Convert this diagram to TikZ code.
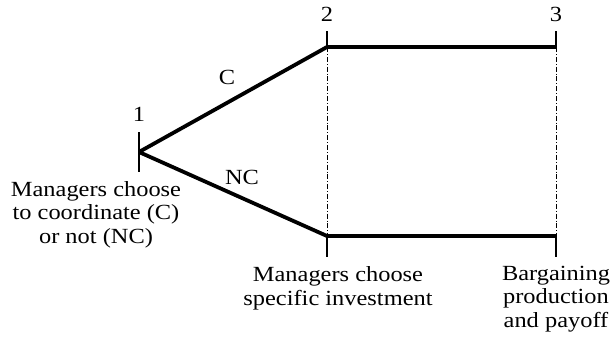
\documentclass[tikz,border=0pt]{standalone}
\usepackage{fontspec}
\setmainfont{Liberation Serif}[FakeStretch=1.13]

\begin{document}
\begin{tikzpicture}
        [x=0.5pt,y=-0.5pt,font=\fontsize{10.8}{11.75}\selectfont,
         branch/.style={line width=1.9pt},
         tick/.style={line width=0.55pt},
         guide/.style={line width=0.4pt,dash pattern=on 2.5pt off 1pt on 0.4pt off 1pt},
         every node/.style={inner sep=0pt}]
        \useasboundingbox (0,0) rectangle (610,343);

        % stages
        \coordinate (1) at (139,152);
        \coordinate (1a) at (139,132);
        \coordinate (1b) at (139,172);
        \coordinate (2a) at (327,31);
        \coordinate (2C) at (327,47);
        \coordinate (2N) at (327,236);
        \coordinate (2b) at (327,257);
        \coordinate (3a) at (556,31);
        \coordinate (3C) at (556,47);
        \coordinate (3N) at (556,236);
        \coordinate (3b) at (556,257);

        \node (n1) at (139,114) {1};
        \node (n2) at (327,14) {2};
        \node (n3) at (556,14) {3};

        % ticks and guides
        \path [tick] (1a) edge (1b);
        \path [tick] (2a) edge (2C);
        \path [tick] (2N) edge (2b);
        \path [tick] (3a) edge (3C);
        \path [tick] (3N) edge (3b);
        \path [guide] (2C) edge (2N);
        \path [guide] (3C) edge (3N);

        % branches
        \draw [branch] (1) -- (2C) -- (3C);
        \draw [branch] (1) -- (2N) -- (3N);
        \node (c) at (227,77) {C};
        \node (nc) at (242,177) {NC};

        % descriptions (base = last line)
        \node [align=center,anchor=base] (d1) at (96,243)
            {Managers choose\\to coordinate (C)\\or not (NC)};
        \node [align=center,anchor=base] (d2) at (338,305)
            {Managers choose\\specific investment};
        \node [align=center,anchor=base] (d3) at (556,327)
            {Bargaining\\production\\and payoff};
\end{tikzpicture}
\end{document}
